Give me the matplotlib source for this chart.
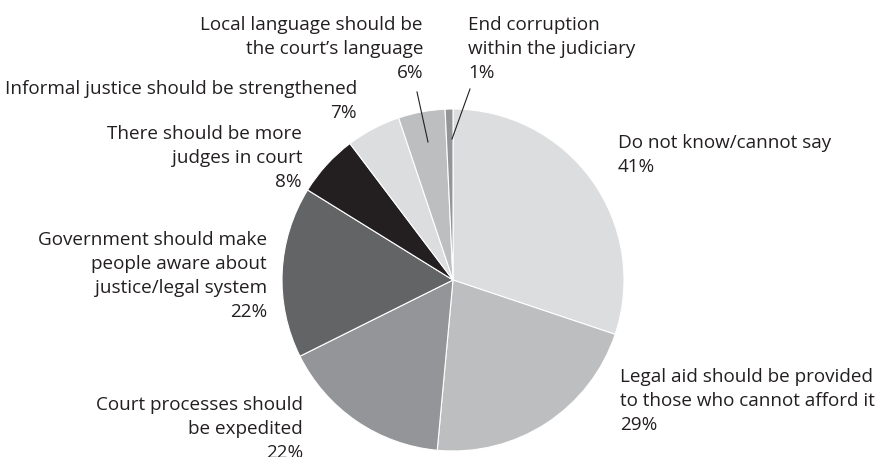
import matplotlib
matplotlib.use("Agg")
import matplotlib.pyplot as plt

# Survey responses (multiple answers allowed, so shares exceed 100%)
labels = [
    ["Do not know/cannot say", "41%"],
    ["Legal aid should be provided", "to those who cannot afford it", "29%"],
    ["Court processes should", "be expedited", "22%"],
    ["Government should make", "people aware about", "justice/legal system", "22%"],
    ["There should be more", "judges in court", "8%"],
    ["Informal justice should be strengthened", "7%"],
    ["Local language should be", "the court\u2019s language", "6%"],
    ["End corruption", "within the judiciary", "1%"],
]
values = [41, 29, 22, 22, 8, 7, 6, 1]
colors = ["#dcddde", "#bcbec0", "#939598", "#636466",
          "#231f20", "#dcddde", "#bcbec0", "#939598"]

plt.rcParams["font.family"] = ["Open Sans", "DejaVu Sans"]
TXT = "#231f20"

W, H = 896, 457
fig = plt.figure(figsize=(W / 100, H / 100), dpi=100)
ax = fig.add_axes([0, 0, 1, 1])

cx, cy, r = 453, 280, 171
# y axis runs downward (pixel-like), so start at -90 to begin at 12 o'clock
ax.pie(values, colors=colors, startangle=-90, counterclock=True,
       center=(cx, cy), radius=r, frame=True,
       wedgeprops=dict(edgecolor="white", linewidth=0.8))
ax.set_xlim(0, W)
ax.set_ylim(H, 0)
ax.set_aspect("equal")
ax.axis("off")

# label placement: (x, baseline of first line, alignment)
placements = [
    (618, 148, "left"),
    (620, 382, "left"),
    (303, 410, "right"),
    (267, 245, "right"),
    (302, 139, "right"),
    (357, 94, "right"),
    (423, 30, "right"),
    (468, 30, "left"),
]
fs = 13.6
step = 24
for lines, (x, y, ha) in zip(labels, placements):
    for i, line in enumerate(lines):
        ax.text(x, y + i * step, line, ha=ha, va="baseline", fontsize=fs,
                color=TXT)

# leader lines for the two thinnest slices
ax.plot([417, 428], [92, 142], color=TXT, lw=0.8)
ax.plot([470, 452], [89, 139], color=TXT, lw=0.8)

fig.savefig("out.png", dpi=100, facecolor="white")
